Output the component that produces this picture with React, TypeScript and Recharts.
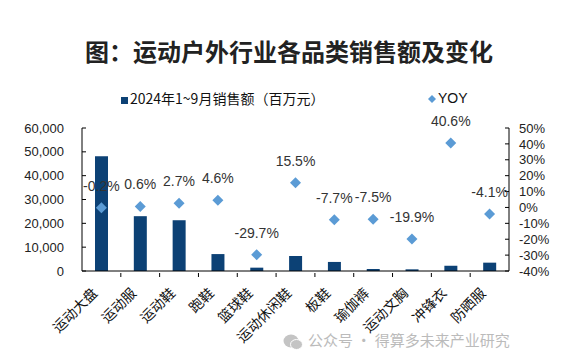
import React from 'react';
import { ComposedChart, Bar, Scatter, XAxis, YAxis } from 'recharts';

const categories = ['运动大盘', '运动服', '运动鞋', '跑鞋', '篮球鞋', '运动休闲鞋', '板鞋', '瑜伽裤', '运动文胸', '冲锋衣', '防晒服'];
const sales = [48100, 23000, 21300, 7100, 1400, 6300, 3800, 850, 700, 2200, 3500];
const yoy = [-0.2, 0.6, 2.7, 4.6, -29.7, 15.5, -7.7, -7.5, -19.9, 40.6, -4.1];
const leftTicks = [0, 10000, 20000, 30000, 40000, 50000, 60000];
const rightTicks = [-40, -30, -20, -10, 0, 10, 20, 30, 40, 50];

const data = categories.map((name, i) => ({ name, sales: sales[i], yoy: yoy[i] }));

const W = 574;
const H = 363;
const LEFT_W = 82;
const RIGHT_W = 65;
const PLOT_W = W - LEFT_W - RIGHT_W;
const BAND = PLOT_W / categories.length;
const BAR_COLOR = '#0c4175';
const DOT_COLOR = '#5b9bd5';
const FONT = "'Liberation Sans', 'Noto Sans CJK SC', sans-serif";
const CJK = "'Noto Sans CJK SC', sans-serif";

const XTick = (props: any) => {
  const { x, y, payload, index } = props;
  const axisY = y - 2;
  const ax = x - 3;
  const ay = axisY + 17;
  return (
    <g>
      {index > 0 && (
        <line x1={x - BAND / 2} x2={x - BAND / 2} y1={axisY} y2={axisY - 4} stroke="#000" strokeWidth={1} />
      )}
      <text
        x={ax}
        y={ay}
        transform={`rotate(-45, ${ax}, ${ay})`}
        textAnchor="end"
        fontSize={14}
        fontFamily={CJK}
        fill="#111"
      >
        {payload.value}
      </text>
    </g>
  );
};

const Diamond = (props: any) => {
  const { cx, cy, payload } = props;
  const r = 5.5;
  return (
    <g>
      <polygon
        points={`${cx},${cy - r} ${cx + r},${cy} ${cx},${cy + r} ${cx - r},${cy}`}
        fill={DOT_COLOR}
      />
      <text x={cx} y={cy - 17} textAnchor="middle" fontSize={14} fontFamily={FONT} fill="#333">
        {`${payload.yoy}%`}
      </text>
    </g>
  );
};

export default function App() {
  return (
    <div style={{ position: 'absolute', left: 0, top: 0, width: W, height: H, background: '#fff', fontFamily: CJK }}>
      <div
        style={{
          position: 'absolute',
          left: 0,
          top: 36,
          width: W,
          textAlign: 'center',
          fontSize: 24,
          fontWeight: 'bold',
          color: '#222',
          lineHeight: '30px',
          paddingLeft: 4,
          boxSizing: 'border-box',
        }}
      >
        图：运动户外行业各品类销售额及变化
      </div>
      <div style={{ position: 'absolute', left: 121, top: 90, fontSize: 14, color: '#111', lineHeight: '17px', whiteSpace: 'nowrap' }}>
        <span style={{ display: 'inline-block', width: 7, height: 7, background: BAR_COLOR, marginRight: 2, verticalAlign: 'middle' }} />
        2024年1~9月销售额（百万元）
      </div>
      <div style={{ position: 'absolute', left: 428, top: 90, fontSize: 14, color: '#111', lineHeight: '17px', whiteSpace: 'nowrap', fontFamily: FONT }}>
        <svg width={8} height={8} style={{ marginRight: 2, verticalAlign: 'middle' }}>
          <polygon points="4,0 8,4 4,8 0,4" fill={DOT_COLOR} />
        </svg>
        YOY
      </div>
      <ComposedChart
        width={W}
        height={H}
        data={data}
        margin={{ top: 128, right: 0, bottom: 0, left: 0 }}
        style={{ position: 'absolute', left: 0, top: 0 }}
      >
        <XAxis
          dataKey="name"
          height={92}
          interval={0}
          axisLine={{ stroke: '#000' }}
          tickLine={false}
          tick={<XTick />}
        />
        <YAxis
          yAxisId="left"
          orientation="left"
          width={LEFT_W}
          domain={[0, 60000]}
          ticks={leftTicks}
          interval={0}
          tickSize={-4}
          tickMargin={22}
          axisLine={{ stroke: '#000' }}
          tickLine={{ stroke: '#000' }}
          tickFormatter={(v: number) => v.toLocaleString('en-US')}
          tick={{ fontSize: 13, fill: '#222', fontFamily: FONT }}
        />
        <YAxis
          yAxisId="right"
          orientation="right"
          width={RIGHT_W}
          domain={[-40, 50]}
          ticks={rightTicks}
          interval={0}
          tickSize={-4}
          tickMargin={14}
          axisLine={{ stroke: '#000' }}
          tickLine={{ stroke: '#000' }}
          tickFormatter={(v: number) => `${v}%`}
          tick={{ fontSize: 13, fill: '#222', fontFamily: FONT }}
        />
        <Bar yAxisId="left" dataKey="sales" fill={BAR_COLOR} barSize={13} isAnimationActive={false} />
        <Scatter yAxisId="right" dataKey="yoy" shape={<Diamond />} isAnimationActive={false} />
      </ComposedChart>
      <div style={{ position: 'absolute', left: 283, top: 330, fontSize: 15, color: '#bbb', whiteSpace: 'nowrap', lineHeight: '20px' }}>
        <svg width={20} height={18} style={{ verticalAlign: 'middle', marginRight: 5 }}>
          <ellipse cx={8} cy={8} rx={7.5} ry={6.5} fill="#c4c4c4" />
          <ellipse cx={13.5} cy={11.5} rx={6} ry={5} fill="#c4c4c4" stroke="#fff" strokeWidth={1} />
        </svg>
        公众号 · 得算多未来产业研究
      </div>
    </div>
  );
}
